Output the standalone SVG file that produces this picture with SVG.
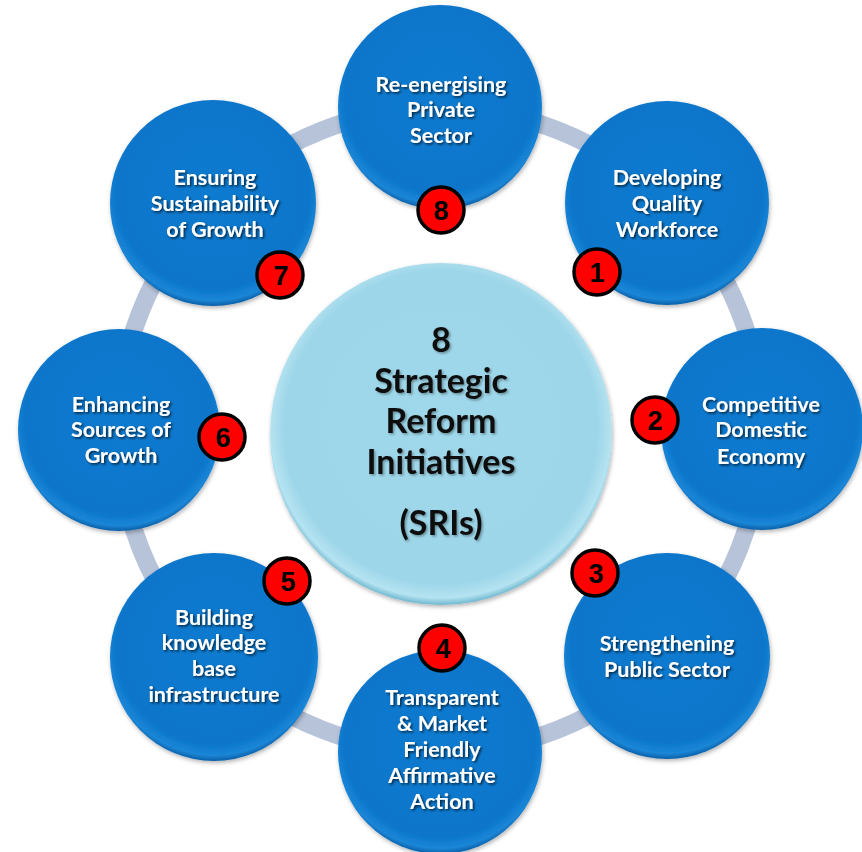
<svg xmlns="http://www.w3.org/2000/svg" width="862" height="852" viewBox="0 0 862 852">
<defs>
<radialGradient id="gBlue" cx="50%" cy="45%" r="55%">
<stop offset="0" stop-color="#0e7bd0"/>
<stop offset="0.85" stop-color="#0a76cb"/>
<stop offset="0.95" stop-color="#1b86d6"/>
<stop offset="1" stop-color="#0a5fa8"/>
</radialGradient>
<radialGradient id="gCyan" cx="50%" cy="48%" r="52%">
<stop offset="0" stop-color="#9fd8eb"/>
<stop offset="0.88" stop-color="#9dd6e9"/>
<stop offset="0.96" stop-color="#b5e3f1"/>
<stop offset="1" stop-color="#6fb7cf"/>
</radialGradient>
<filter id="ts" x="-20%" y="-20%" width="140%" height="160%">
<feDropShadow dx="1.5" dy="1.5" stdDeviation="0.8" flood-color="#000" flood-opacity="0.7"/>
</filter>
<filter id="tsc" x="-20%" y="-20%" width="140%" height="160%">
<feDropShadow dx="1.5" dy="1.5" stdDeviation="1" flood-color="#000" flood-opacity="0.35"/>
</filter>
<filter id="cs" x="-20%" y="-20%" width="140%" height="140%">
<feDropShadow dx="1" dy="2" stdDeviation="2" flood-color="#000" flood-opacity="0.3"/>
</filter>
</defs>
<style>
.ring{fill:none;stroke:#b7c3d9;stroke-width:18}
.node{fill:url(#gBlue);filter:url(#cs)}
.hub{fill:url(#gCyan);filter:url(#cs)}
.lbl{font-family:Lato,"Open Sans","Liberation Sans",sans-serif;font-weight:bold;font-size:21.5px;fill:#fff;text-anchor:middle;filter:url(#ts)}
.hubt{font-family:Lato,"Open Sans","Liberation Sans",sans-serif;font-weight:bold;font-size:34px;fill:#111;text-anchor:middle;filter:url(#tsc)}
.badge{fill:#ff0000;stroke:#000;stroke-width:3.5}
.num{font-family:"Liberation Sans",Arial,sans-serif;font-weight:bold;font-size:27px;fill:#000;text-anchor:middle}
</style>
<rect width="862" height="852" fill="#fff"/>
<g id="connectors">
<circle class="ring" cx="440" cy="430" r="322"/>
</g>
<g id="hub">
<circle class="hub" cx="441" cy="434" r="171"/>
<text class="hubt" x="441" y="352">8</text>
<text class="hubt" x="441" y="393">Strategic</text>
<text class="hubt" x="441" y="433">Reform</text>
<text class="hubt" x="441" y="474">Initiatives</text>
<text class="hubt" x="441" y="535">(SRIs)</text>
</g>
<g id="n8">
<circle class="node" cx="440" cy="107" r="102"/>
<text class="lbl" x="441" y="92">Re-energising</text>
<text class="lbl" x="441" y="117">Private</text>
<text class="lbl" x="441" y="143">Sector</text>
<circle class="badge" cx="441" cy="210" r="23"/>
<text class="num" x="441" y="220">8</text>
</g>
<g id="n1">
<circle class="node" cx="667" cy="203" r="102"/>
<text class="lbl" x="667" y="185">Developing</text>
<text class="lbl" x="667" y="211">Quality</text>
<text class="lbl" x="667" y="237">Workforce</text>
<circle class="badge" cx="597" cy="272" r="23"/>
<text class="num" x="597" y="282">1</text>
</g>
<g id="n2">
<circle class="node" cx="762" cy="429" r="101"/>
<text class="lbl" x="761" y="412">Competitive</text>
<text class="lbl" x="761" y="437">Domestic</text>
<text class="lbl" x="761" y="464">Economy</text>
<circle class="badge" cx="655" cy="420" r="23"/>
<text class="num" x="655" y="430">2</text>
</g>
<g id="n3">
<circle class="node" cx="667" cy="656" r="103"/>
<text class="lbl" x="667" y="651">Strengthening</text>
<text class="lbl" x="667" y="677">Public Sector</text>
<circle class="badge" cx="595" cy="573" r="23"/>
<text class="num" x="596" y="583">3</text>
</g>
<g id="n4">
<circle class="node" cx="440" cy="752" r="102"/>
<text class="lbl" x="442" y="705">Transparent</text>
<text class="lbl" x="442" y="731">&amp; Market</text>
<text class="lbl" x="442" y="757">Friendly</text>
<text class="lbl" x="442" y="783">Affirmative</text>
<text class="lbl" x="442" y="809">Action</text>
<circle class="badge" cx="442" cy="648" r="23"/>
<text class="num" x="443" y="658">4</text>
</g>
<g id="n5">
<circle class="node" cx="214" cy="657" r="104"/>
<text class="lbl" x="214" y="625">Building</text>
<text class="lbl" x="214" y="650">knowledge</text>
<text class="lbl" x="214" y="676">base</text>
<text class="lbl" x="214" y="702">infrastructure</text>
<circle class="badge" cx="287" cy="581" r="23"/>
<text class="num" x="288" y="591">5</text>
</g>
<g id="n6">
<circle class="node" cx="119" cy="430" r="101"/>
<text class="lbl" x="121" y="412">Enhancing</text>
<text class="lbl" x="121" y="437">Sources of</text>
<text class="lbl" x="121" y="463">Growth</text>
<circle class="badge" cx="222" cy="437" r="23"/>
<text class="num" x="223" y="447">6</text>
</g>
<g id="n7">
<circle class="node" cx="213" cy="203" r="103"/>
<text class="lbl" x="215" y="185">Ensuring</text>
<text class="lbl" x="215" y="211">Sustainability</text>
<text class="lbl" x="215" y="237">of Growth</text>
<circle class="badge" cx="280" cy="275" r="23"/>
<text class="num" x="281" y="285">7</text>
</g>
</svg>
